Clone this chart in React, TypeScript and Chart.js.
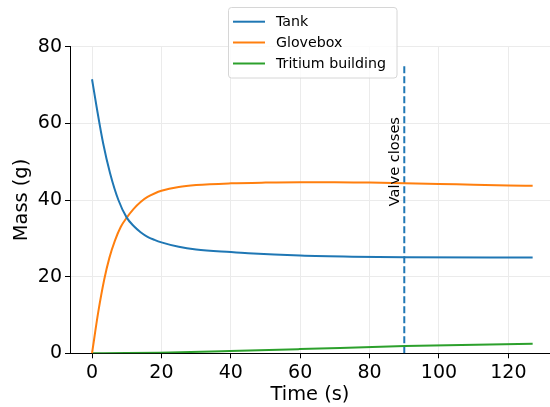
import React, { useEffect, useRef } from "react";
import { Chart, registerables } from "chart.js";

Chart.register(...registerables);

// ---- data ----
const TANK_TIME = [0, 1.3, 3.2, 5.2, 7.6, 10, 12, 14, 16, 18, 20, 25, 30, 40, 45, 60, 75, 90, 127];
const TANK_MASS = [71.5, 64.4, 54.8, 47.0, 40.0, 35.4, 33.2, 31.6, 30.4, 29.6, 28.95, 27.8, 27.1, 26.4, 26.1, 25.5, 25.2, 25.05, 25.0];

const GLOVEBOX_TIME = [0, 1.8, 3.5, 5, 6.6, 8.3, 10, 12, 14, 16, 18, 20, 25, 30, 40, 50, 60, 70, 80, 90, 100, 110, 120, 127];
const GLOVEBOX_MASS = [0, 10.8, 19.2, 24.9, 29.4, 33.0, 35.4, 37.7, 39.5, 40.8, 41.7, 42.4, 43.4, 43.9, 44.35, 44.55, 44.65, 44.65, 44.55, 44.4, 44.2, 44.0, 43.8, 43.7];

const BUILDING_TIME = [0, 10, 19.5, 39.7, 59.9, 90.2, 127];
const BUILDING_MASS = [0, 0.05, 0.17, 0.6, 1.1, 1.9, 2.5];

const SERIES_LABELS = ["Tank", "Glovebox", "Tritium building"];
const SERIES_COLORS = ["#1f77b4", "#ff7f0e", "#2ca02c"];

const VALVE_TIME = 90;
const VALVE_LINE_Y = [0, 75];
const VALVE_LABEL = "Valve closes";
const VALVE_LABEL_POS = { x: 87.5, y: 50 };

const X_TICKS = [0, 20, 40, 60, 80, 100, 120];
const Y_TICKS = [0, 20, 40, 60, 80];
const X_LABEL = "Time (s)";
const Y_LABEL = "Mass (g)";

const FONT = "'DejaVu Sans', sans-serif";

const toPoints = (xs: number[], ys: number[]) => xs.map((x, i) => ({ x, y: ys[i] }));

const overlayPlugin = {
  id: "overlay",
  afterDraw(chart: any) {
    const ctx = chart.ctx as CanvasRenderingContext2D;
    const xs = chart.scales.x;
    const ys = chart.scales.y;
    // valve label
    ctx.save();
    ctx.font = `14.6px ${FONT}`;
    ctx.fillStyle = "#000";
    ctx.textAlign = "center";
    ctx.textBaseline = "middle";
    ctx.translate(xs.getPixelForValue(VALVE_LABEL_POS.x), ys.getPixelForValue(VALVE_LABEL_POS.y));
    ctx.rotate(-Math.PI / 2);
    ctx.fillText(VALVE_LABEL, 0, 0);
    ctx.restore();

    // legend
    ctx.save();
    const bx = 228.5, by = 7.5, bw = 168.5, bh = 70.5, r = 3;
    ctx.beginPath();
    ctx.moveTo(bx + r, by);
    ctx.lineTo(bx + bw - r, by);
    ctx.arcTo(bx + bw, by, bx + bw, by + r, r);
    ctx.lineTo(bx + bw, by + bh - r);
    ctx.arcTo(bx + bw, by + bh, bx + bw - r, by + bh, r);
    ctx.lineTo(bx + r, by + bh);
    ctx.arcTo(bx, by + bh, bx, by + bh - r, r);
    ctx.lineTo(bx, by + r);
    ctx.arcTo(bx, by, bx + r, by, r);
    ctx.closePath();
    ctx.fillStyle = "rgba(255,255,255,0.8)";
    ctx.fill();
    ctx.strokeStyle = "#d6d6d6";
    ctx.lineWidth = 1;
    ctx.stroke();
    ctx.font = `14.2px ${FONT}`;
    ctx.textAlign = "left";
    ctx.textBaseline = "middle";
    const rowsY = [21.7, 42.5, 63.5];
    SERIES_LABELS.forEach((lab, i) => {
      ctx.strokeStyle = SERIES_COLORS[i];
      ctx.lineWidth = 2;
      ctx.beginPath();
      ctx.moveTo(233, rowsY[i]);
      ctx.lineTo(265, rowsY[i]);
      ctx.stroke();
      ctx.fillStyle = "#000";
      ctx.fillText(lab, 276, rowsY[i] + 0.5);
    });
    ctx.restore();
  },
};

export default function App() {
  const ref = useRef<HTMLCanvasElement>(null);
  useEffect(() => {
    document.body.style.margin = "0";
    const canvas = ref.current!;
    const lineDs = (i: number, pts: any[]) => ({
      label: SERIES_LABELS[i],
      data: pts,
      borderColor: SERIES_COLORS[i],
      backgroundColor: SERIES_COLORS[i],
      borderWidth: 2,
      pointRadius: 0,
      cubicInterpolationMode: "monotone" as const,
      fill: false,
    });
    const chart = new Chart(canvas, {
      type: "line",
      data: {
        datasets: [
          lineDs(0, toPoints(TANK_TIME, TANK_MASS)),
          lineDs(1, toPoints(GLOVEBOX_TIME, GLOVEBOX_MASS)),
          lineDs(2, toPoints(BUILDING_TIME, BUILDING_MASS)),
          {
            label: VALVE_LABEL,
            data: VALVE_LINE_Y.map((y) => ({ x: VALVE_TIME, y })),
            borderColor: "#1f77b4",
            borderWidth: 2,
            borderDash: [7, 3],
            pointRadius: 0,
            fill: false,
          },
        ],
      },
      options: {
        responsive: false,
        animation: false,
        devicePixelRatio: 1,
        layout: { padding: { top: 46.7, left: 0, right: 0, bottom: 0 } },
        plugins: { legend: { display: false }, tooltip: { enabled: false } },
        scales: {
          x: {
            type: "linear",
            min: -6.35,
            max: 132,
            afterBuildTicks: (s: any) => {
              s.ticks = X_TICKS.map((v) => ({ value: v }));
            },
            afterFit: (s: any) => {
              s.height = 53.7;
            },
            grid: { color: "#ebebeb", lineWidth: 1, tickColor: "#000", tickLength: 5, tickWidth: 1 },
            border: { display: true, color: "#000", width: 1 },
            ticks: { color: "#000", font: { family: FONT, size: 19 }, padding: 3, maxRotation: 0 },
            title: { display: true, text: X_LABEL, color: "#000", font: { family: FONT, size: 19.4 }, padding: { top: 0, bottom: 0 } },
          },
          y: {
            type: "linear",
            min: 0,
            max: 80,
            afterBuildTicks: (s: any) => {
              s.ticks = Y_TICKS.map((v) => ({ value: v }));
            },
            afterFit: (s: any) => {
              s.width = 70;
            },
            grid: { color: "#ebebeb", lineWidth: 1, tickColor: "#000", tickLength: 5, tickWidth: 1 },
            border: { display: true, color: "#000", width: 1 },
            ticks: { color: "#000", font: { family: FONT, size: 19 }, padding: 3 },
            title: { display: true, text: Y_LABEL, color: "#000", font: { family: FONT, size: 19.4 }, padding: { top: 10, bottom: 0 } },
          },
        },
      },
      plugins: [overlayPlugin],
    });
    return () => chart.destroy();
  }, []);
  return <canvas ref={ref} width={550} height={407} style={{ display: "block" }} />;
}
